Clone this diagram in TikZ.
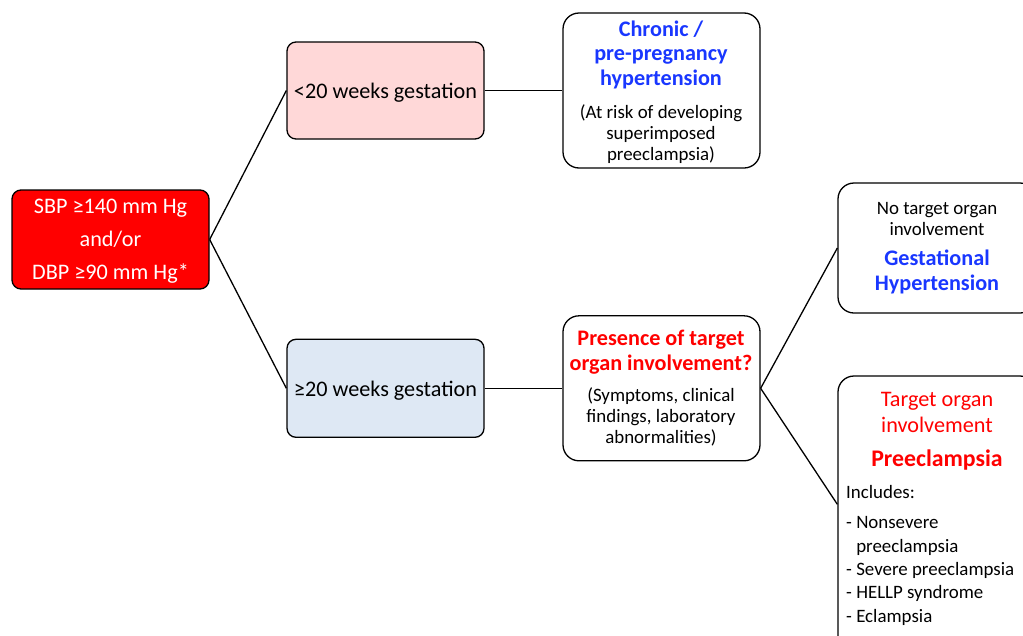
\documentclass[tikz,border=0pt]{standalone}
\usepackage{fontspec}
\setmainfont{Carlito}
\definecolor{pinkfill}{RGB}{255,216,216}
\definecolor{bluefill}{RGB}{222,232,244}
\definecolor{hblue}{RGB}{25,55,255}
\definecolor{hred}{RGB}{255,0,0}
\newcommand\fsmain{\fontsize{22.2}{24.5}\selectfont}
\newcommand\fsred{\fontsize{22.2}{33}\selectfont}
\newcommand\fssmall{\fontsize{18.9}{21}\selectfont}
\newcommand\fslist{\fontsize{18.9}{23.3}\selectfont}
\newcommand\fsbig{\fontsize{23.8}{26}\selectfont}
\begin{document}
\begin{tikzpicture}[x=1pt,y=-1pt,
  box/.style={draw=black, line width=1.3pt, rounded corners=9pt, inner sep=0pt},
  bigbox/.style={box, rounded corners=16pt, fill=white},
  txt/.style={inner sep=0pt, align=center, anchor=base},
  link/.style={line width=1.3pt}]
\useasboundingbox (0,0) rectangle (1023,635);
\clip (0,0) rectangle (1023,635);
\fill[white] (0,0) rectangle (1023,635);
% boxes
\node[box, fill=red, minimum width=197pt, minimum height=99pt] (bp) at (110.5,239.5) {};
\node[box, fill=pinkfill, minimum width=197pt, minimum height=97pt] (lt) at (385.5,90.5) {};
\node[box, fill=bluefill, minimum width=197pt, minimum height=98pt] (ge) at (385.5,388.3) {};
\node[bigbox, minimum width=197pt, minimum height=155pt] (ch) at (661.5,90.5) {};
\node[bigbox, minimum width=197pt, minimum height=145pt] (pr) at (661.5,388.3) {};
\node[bigbox, minimum width=198pt, minimum height=130pt] (nt) at (937,248) {};
\node[bigbox, minimum width=198pt, minimum height=324pt] (tg) at (937,538) {};
% connectors
\draw[link] (bp.east) -- (lt.west);
\draw[link] (bp.east) -- (ge.west);
\draw[link] (lt.east) -- (ch.west);
\draw[link] (ge.east) -- (pr.west);
\draw[link] (pr.east) -- (nt.west);
\coordinate (tgin) at ([yshift=-129pt]tg.north west);
\draw[link] (pr.east) -- (tgin);
% texts (anchor base = baseline of the last line)
\node[txt, text=white, font=\fsred] (bpt) at (110.5,279) {SBP ≥140 mm Hg\\and/or\\DBP ≥90 mm Hg*};
\node[txt, font=\fsmain] (ltt) at (385.5,98) {<20 weeks gestation};
\node[txt, font=\fsmain] (get) at (385.5,396) {≥20 weeks gestation};
\node[txt, text=hblue, font=\fsmain\bfseries] (cht) at (661,85) {Chronic /\\pre-pregnancy\\hypertension};
\node[txt, font=\fssmall] (chs) at (661,160) {(At risk of developing\\superimposed\\preeclampsia)};
\node[txt, text=hred, font=\fsmain\bfseries] (prt) at (661,370) {Presence of target\\organ involvement?};
\node[txt, font=\fssmall] (prs) at (661,443) {(Symptoms, clinical\\findings, laboratory\\abnormalities)};
\node[txt, font=\fssmall] (ntt) at (937,235) {No target organ\\involvement};
\node[txt, text=hblue, font=\fsmain\bfseries] (nth) at (937,290) {Gestational\\Hypertension};
\node[txt, text=hred, font=\fsmain] (tgt) at (937,432) {Target organ\\[1.5pt]involvement};
\node[txt, text=hred, font=\fsbig\bfseries] (tgh) at (937,466) {Preeclampsia};
\node[txt, anchor=base west, align=left, font=\fslist] (tgl) at (846,622) {Includes:\\[7pt]- Nonsevere\\\phantom{- }preeclampsia\\- Severe preeclampsia\\- HELLP syndrome\\- Eclampsia};
\end{tikzpicture}
\end{document}
